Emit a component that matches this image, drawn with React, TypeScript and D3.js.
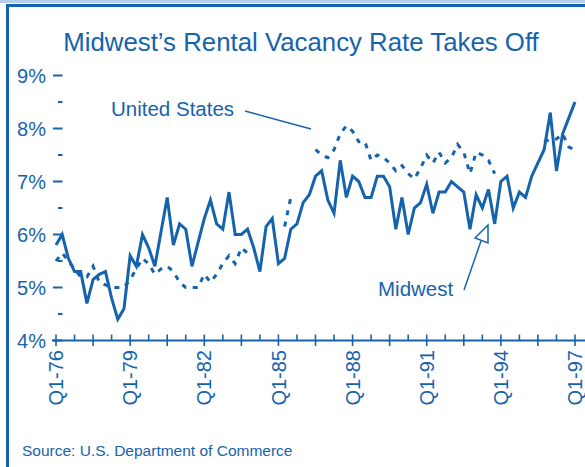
import React from "react";
import * as d3 from "d3";

const W = 585;
const H = 467;
const BLUE = "#1663ad";
const FONT = "'Liberation Sans', Arial, Helvetica, sans-serif";

// Quarterly rental vacancy rate, Q1-76 .. Q1-97 (85 quarters)
const midwest: number[] = [
  5.8, 6.0, 5.55, 5.3, 5.3, 4.7, 5.15, 5.25, 5.3, 4.8,
  4.4, 4.6, 5.6, 5.4, 6.0, 5.75, 5.4, 6.05, 6.7, 5.8,
  6.2, 6.1, 5.4, 5.85, 6.3, 6.65, 6.2, 6.1, 6.8, 6.0,
  6.0, 6.1, 5.75, 5.3, 6.15, 6.3, 5.45, 5.55, 6.1, 6.2,
  6.6, 6.75, 7.1, 7.2, 6.65, 6.4, 7.4, 6.7, 7.1, 7.0,
  6.7, 6.7, 7.1, 7.1, 6.9, 6.1, 6.7, 6.0, 6.5, 6.6,
  6.95, 6.4, 6.8, 6.8, 7.0, 6.9, 6.8, 6.1, 6.75, 6.5,
  6.85, 6.2, 7.0, 7.1, 6.5, 6.8, 6.7, 7.1, 7.35, 7.6,
  8.3, 7.2, 7.9, 8.2, 8.5,
];

// United States (null where no dashes are visible in the source)
const unitedStates: (number | null)[] = [
  5.5, 5.65, 5.5, 5.35, 5.2, 5.2, 5.4, 5.1, 5.05, 5.0,
  5.0, 5.0, 5.15, 5.35, 5.55, 5.45, 5.25, 5.35, 5.4, 5.3,
  5.1, 5.0, 5.0, 5.0, 5.25, 5.1, 5.25, 5.45, 5.6, 5.45,
  5.75, 5.65, null, null, null, null, null, 6.15, 6.7, null,
  null, null, 7.6, 7.5, 7.45, 7.6, 7.9, 8.05, 7.95, 7.75,
  7.75, 7.4, 7.5, 7.45, 7.35, 7.2, 7.3, 7.15, 7.05, 7.25,
  7.5, 7.35, 7.55, 7.35, 7.45, 7.7, 7.55, 7.15, 7.55, 7.5,
  7.4, 7.15, null, null, null, null, null, null, null, 7.75,
  7.8, 7.8, 7.9, 7.65, 7.6,
];

const xLabels: string[] = ["Q1-76", "Q1-79", "Q1-82", "Q1-85", "Q1-88", "Q1-91", "Q1-94", "Q1-97"];
const yTicks: number[] = [4, 5, 6, 7, 8, 9];
const yMinorTicks: number[] = [4.5, 5.5, 6.5, 7.5, 8.5];

export default function App() {
  const n = midwest.length;
  const x = d3.scaleLinear().domain([0, n - 1]).range([56, 575]);
  const y = d3.scaleLinear().domain([4, 9]).range([340.5, 75.5]);

  const line = d3
    .line<number | null>()
    .defined((d) => d != null)
    .x((_, i) => x(i))
    .y((d) => y(d as number));

  const xTickIdx = d3.range(0, n, 3);

  return (
    <svg
      width={W}
      height={H}
      style={{ position: "absolute", left: 0, top: 0, background: "#fff" }}
      fontFamily={FONT}
    >
      {/* frame */}
      <line x1={0} x2={W} y1={1.5} y2={1.5} stroke="#b5cfe9" strokeWidth={3} />
      <line x1={7.5} x2={W} y1={5.5} y2={5.5} stroke={BLUE} strokeWidth={3} />
      <line x1={7.5} x2={7.5} y1={4} y2={H} stroke={BLUE} strokeWidth={3} />

      {/* title */}
      <text x={301} y={51} textAnchor="middle" fontSize={25.8} fill={BLUE}>
        Midwest’s Rental Vacancy Rate Takes Off
      </text>

      {/* y axis */}
      {yTicks.map((t) => (
        <g key={"y" + t}>
          <text x={46} y={y(t)} dy="0.35em" textAnchor="end" fontSize={20} fill={BLUE}>
            {t}%
          </text>
          <line x1={53} x2={62.5} y1={y(t)} y2={y(t)} stroke={BLUE} strokeWidth={2} />
        </g>
      ))}
      {yMinorTicks.map((t) => (
        <line key={"ym" + t} x1={58} x2={62.5} y1={y(t)} y2={y(t)} stroke={BLUE} strokeWidth={2} />
      ))}

      {/* x axis */}
      <line x1={52} x2={W} y1={y(4)} y2={y(4)} stroke={BLUE} strokeWidth={2} />
      {xTickIdx.map((i) => {
        const major = i % 6 === 0;
        return (
          <line
            key={"xt" + i}
            x1={x(i)}
            x2={x(i)}
            y1={y(4) - 6}
            y2={major ? y(4) + 5.5 : y(4)}
            stroke={BLUE}
            strokeWidth={1.6}
          />
        );
      })}
      {xLabels.map((lab, k) => (
        <text
          key={lab}
          transform={`translate(${x(k * 12)},350) rotate(-90)`}
          dy="0.36em"
          textAnchor="end"
          fontSize={20}
          fill={BLUE}
        >
          {lab}
        </text>
      ))}

      {/* series */}
      <path
        d={line(unitedStates) || ""}
        fill="none"
        stroke={BLUE}
        strokeWidth={3}
        strokeDasharray="5,6.5"
      />
      <path d={line(midwest) || ""} fill="none" stroke={BLUE} strokeWidth={3} strokeLinejoin="miter" />

      {/* annotations */}
      <text x={111} y={116} fontSize={20.5} fill={BLUE}>
        United States
      </text>
      <line x1={245} y1={111} x2={311} y2={129} stroke={BLUE} strokeWidth={1.5} />

      <text x={378} y={296} fontSize={20.5} fill={BLUE}>
        Midwest
      </text>
      <line x1={464} y1={290} x2={481} y2={241} stroke={BLUE} strokeWidth={1.5} />
      <polygon points="475,238 488,225 488,243" fill="#fff" stroke={BLUE} strokeWidth={1.5} />

      {/* source */}
      <text x={22} y={456} fontSize={15.5} fill={BLUE}>
        Source: U.S. Department of Commerce
      </text>
    </svg>
  );
}
